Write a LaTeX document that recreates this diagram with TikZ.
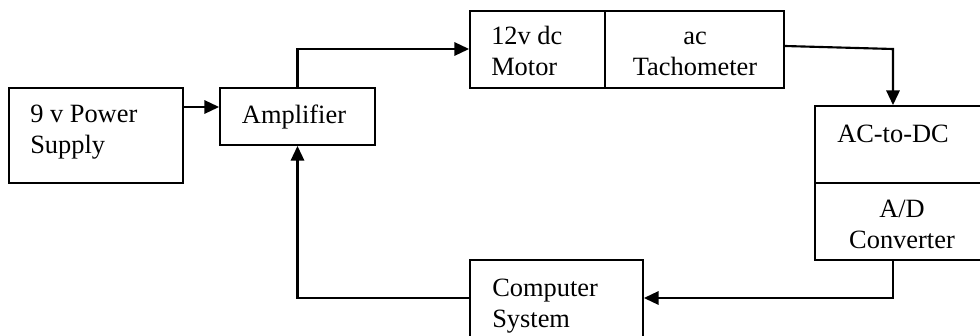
\documentclass[tikz,border=0pt]{standalone}
\usepackage{fontspec}
\setmainfont{Liberation Serif}
\usetikzlibrary{arrows.meta,fit}
\begin{document}
\begin{tikzpicture}[x=0.75pt,y=-0.75pt,
  blk/.style={draw, line width=1.4pt, inner sep=0pt, rectangle},
  arr/.style={draw, line width=1.6pt, -{Triangle[length=11pt,width=10pt]}},
  txt/.style={inner sep=0pt, font=\fontsize{19.8}{23.25}\selectfont}]
\useasboundingbox (0,0) rectangle (980,335);
\clip (0,0) rectangle (980,335);
\fill[white] (0,0) rectangle (980,335);

% blocks
\node[blk, fit={(9,88) (183,183)}] (pwr) {};
\node[blk, fit={(220,88) (375,145)}] (amp) {};
\node[blk, fit={(470,11) (605,88)}] (motor) {};
\node[blk, fit={(605,11) (784,88)}] (tach) {};
\node[blk, fit={(815,106) (992,183)}] (acdc) {};
\node[blk, fit={(815,183) (992,260)}] (adc) {};
\node[blk, fit={(470,260) (643,348)}] (comp) {};

% labels (multi-line labels are placed by the baseline of their last line)
\node[txt, anchor=base west, align=left] at (30,153) {9 v Power\\Supply};
\node[txt, anchor=base] at (294,123) {Amplifier};
\node[txt, anchor=base west, align=left] at (491,75) {12v dc\\Motor};
\node[txt, anchor=base, align=center] at (695,75) {ac\\Tachometer};
\node[txt, anchor=base west] at (837,142) {AC-to-DC};
\node[txt, anchor=base, align=center] at (902,248) {A/D\\Converter};
\node[txt, anchor=base west, align=left] at (492,327) {Computer\\System};

% connectors
\coordinate (p1) at (0,107);
\coordinate (k1) at (893,49);
\coordinate (fb) at (0,298);
\draw[arr] (pwr.east |- p1) -- (amp.west |- p1);
\draw[arr] (amp.north) |- (motor.west |- k1);
\draw[arr] (tach.east |- 0,46) -- (k1) -- (k1 |- acdc.north);
\draw[arr] (adc.south -| k1) |- (comp.east |- fb);
\draw[arr] (comp.west |- fb) -| (amp.south);
\end{tikzpicture}
\end{document}
